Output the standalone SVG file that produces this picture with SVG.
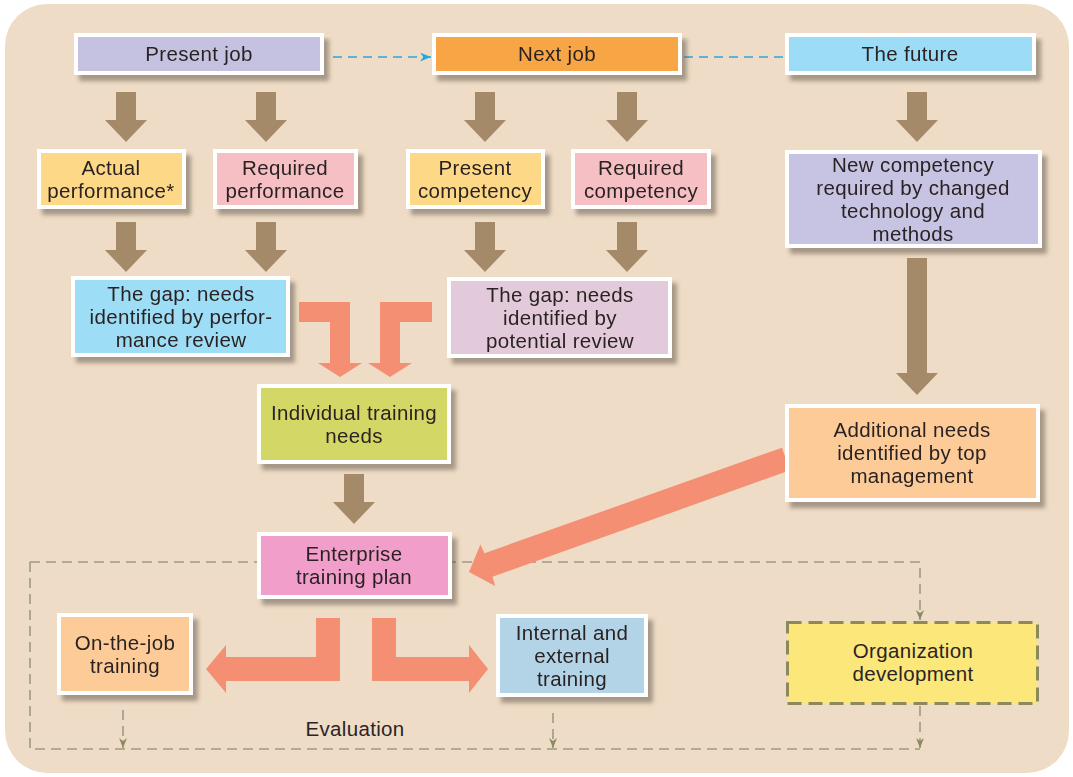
<svg xmlns="http://www.w3.org/2000/svg" width="1073" height="777" viewBox="0 0 1073 777">
<defs>
<style>
text{font-family:"Liberation Sans",Arial,sans-serif;font-size:20.5px;letter-spacing:0.35px;fill:#2b2424;text-anchor:middle}
.box{stroke:#ffffff;stroke-width:4}
.brown{fill:#a58a69}
.salmon{fill:#f48f74}
.loop{fill:none;stroke:#9e9a82;stroke-width:1.6;stroke-dasharray:10 6}
.blue{fill:none;stroke:#2aa6de;stroke-width:1.6;stroke-dasharray:9 6}
</style>
<filter id="sh" x="-10%" y="-10%" width="130%" height="140%">
<feGaussianBlur in="SourceAlpha" stdDeviation="2"/>
<feOffset dx="5" dy="6" result="o"/>
<feFlood flood-color="#5e5248" flood-opacity="0.5"/>
<feComposite in2="o" operator="in"/>
<feMerge><feMergeNode/><feMergeNode in="SourceGraphic"/></feMerge>
</filter>
<marker id="ol" viewBox="0 0 10 8" refX="10" refY="4" markerWidth="10" markerHeight="8" markerUnits="userSpaceOnUse" orient="auto">
<path d="M0,0 L10,4 L0,8 L3,4 Z" fill="#8c8c62"/>
</marker>
<marker id="bl" viewBox="0 0 10 8" refX="10" refY="4" markerWidth="11" markerHeight="9" markerUnits="userSpaceOnUse" orient="auto">
<path d="M0,0 L10,4 L0,8 L3,4 Z" fill="#2aa6de"/>
</marker>
<path id="ba" d="M-10,0 H10 V28 H21 L0,50 L-21,28 H-10 Z"/>
</defs>

<rect x="5" y="4" width="1064" height="769" rx="42" fill="#eedcc6"/>

<g id="connectors">
<path class="blue" d="M333,57 H431" marker-end="url(#bl)"/>
<path class="blue" d="M684,57 H786"/>
<path class="loop" d="M30,562 H920 V620" marker-end="url(#ol)"/>
<path class="loop" d="M30,562 V749 H920"/>
<path class="loop" d="M920,706 V748" marker-end="url(#ol)"/>
<path class="loop" d="M123,710 V748" marker-end="url(#ol)"/>
<path class="loop" d="M553,713 V748" marker-end="url(#ol)"/>
<g class="brown">
<use href="#ba" x="126" y="92"/>
<use href="#ba" x="266" y="92"/>
<use href="#ba" x="485" y="92"/>
<use href="#ba" x="627" y="92"/>
<use href="#ba" x="917" y="92"/>
<use href="#ba" x="126" y="222"/>
<use href="#ba" x="266" y="222"/>
<use href="#ba" x="485" y="222"/>
<use href="#ba" x="627" y="222"/>
<use href="#ba" x="354" y="474"/>
<path d="M907,258 H927 V373 H938 L917,395 L896,373 H907 Z"/>
</g>
<g class="salmon">
<path d="M299,302 H350 V363 H362 L340,377 L318,363 H330 V322 H299 Z"/>
<path d="M432,302 H380 V363 H368 L390,377 L412,363 H400 V322 H432 Z"/>
<path d="M316,618 H340 V681 H226 V693 L206,669 L226,645 V657 H316 Z"/>
<path d="M372,618 H396 V657 H469 V645 L488,669 L469,693 V681 H372 Z"/>
<path d="M782,447.7 L484.5,553.2 L480.4,544.6 L469,572 L495.2,586 L492.5,576.7 L790,470.3 Z"/>
</g>
</g>

<g id="present_job" filter="url(#sh)"><rect class="box" x="76" y="35" width="246" height="38" fill="#c5c1e0"/><text x="199" y="61">Present job</text></g>
<g id="next_job" filter="url(#sh)"><rect class="box" x="434" y="35" width="246" height="38" fill="#f7a545"/><text x="557" y="61">Next job</text></g>
<g id="the_future" filter="url(#sh)"><rect class="box" x="787" y="35" width="247" height="38" fill="#9cdcf7"/><text x="910" y="61">The future</text></g>

<g id="actual_performance" filter="url(#sh)"><rect class="box" x="39" y="151" width="145" height="56" fill="#fdd887"/><text x="111" y="174.7">Actual</text><text x="111" y="197.7">performance*</text></g>
<g id="required_performance" filter="url(#sh)"><rect class="box" x="215" y="151" width="141" height="56" fill="#f5bfc4"/><text x="285" y="174.7">Required</text><text x="285" y="197.7">performance</text></g>
<g id="present_competency" filter="url(#sh)"><rect class="box" x="408" y="151" width="135" height="56" fill="#fdd887"/><text x="475" y="174.7">Present</text><text x="475" y="197.7">competency</text></g>
<g id="required_competency" filter="url(#sh)"><rect class="box" x="573" y="151" width="136" height="56" fill="#f5bfc4"/><text x="641" y="174.7">Required</text><text x="641" y="197.7">competency</text></g>
<g id="new_competency" filter="url(#sh)"><rect class="box" x="787" y="152" width="253" height="94" fill="#c7c3e2"/><text x="913" y="171.7">New competency</text><text x="913" y="194.7">required by changed</text><text x="913" y="217.7">technology and</text><text x="913" y="240.7">methods</text></g>

<g id="gap_performance" filter="url(#sh)"><rect class="box" x="73" y="278" width="215" height="77" fill="#9eddf6"/><text x="181" y="300.7">The gap: needs</text><text x="181" y="323.7">identified by perfor-</text><text x="181" y="346.7">mance review</text></g>
<g id="gap_potential" filter="url(#sh)"><rect class="box" x="449" y="279" width="221" height="77" fill="#e3cada"/><text x="560" y="301.7">The gap: needs</text><text x="560" y="324.7">identified by</text><text x="560" y="347.7">potential review</text></g>

<g id="individual_training_needs" filter="url(#sh)"><rect class="box" x="259" y="386" width="190" height="76" fill="#d3d766"/><text x="354" y="419.7">Individual training</text><text x="354" y="442.7">needs</text></g>
<g id="additional_needs" filter="url(#sh)"><rect class="box" x="787" y="406" width="251" height="94" fill="#fdcb98"/><text x="912" y="437.2">Additional needs</text><text x="912" y="460.2">identified by top</text><text x="912" y="483.2">management</text></g>
<g id="enterprise_training_plan" filter="url(#sh)"><rect class="box" x="259" y="534" width="191" height="63" fill="#f19eca"/><text x="354" y="561.2">Enterprise</text><text x="354" y="584.2">training plan</text></g>

<g id="on_the_job_training" filter="url(#sh)"><rect class="box" x="59" y="615" width="132" height="78" fill="#fdcb98"/><text x="125" y="649.7">On-the-job</text><text x="125" y="672.7">training</text></g>
<g id="internal_external_training" filter="url(#sh)"><rect class="box" x="498" y="616" width="148" height="79" fill="#b3d4e7"/><text x="572" y="639.7">Internal and</text><text x="572" y="662.7">external</text><text x="572" y="685.7">training</text></g>
<g id="organization_development"><rect x="787.5" y="622.5" width="250" height="81" fill="#fce77b" stroke="#8c8a5c" stroke-width="3" stroke-dasharray="14 7"/><text x="913" y="658.2">Organization</text><text x="913" y="681.2">development</text></g>

<text id="evaluation" x="355" y="736">Evaluation</text>
</svg>
